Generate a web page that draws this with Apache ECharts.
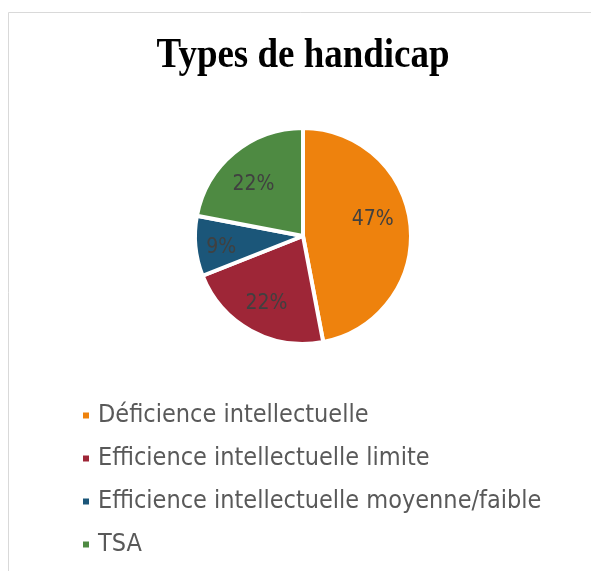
<!DOCTYPE html>
<html lang="fr">
<head>
    <meta charset="UTF-8">
    <title>Types de handicap</title>
    <script src="https://cdn.jsdelivr.net/npm/echarts@6/dist/echarts.min.js"></script>
    <style>
        html, body { margin: 0; padding: 0; background: #fff; }
        #chart { width: 591px; height: 571px; }
    </style>
</head>
<body>
    <div id="chart"></div>
    <script>
        // données
        const categories = ['Déficience intellectuelle', 'Efficience intellectuelle limite', 'Efficience intellectuelle moyenne/faible', 'TSA'];
        const values = [47, 22, 9, 22];
        const colors = ['#EE820D', '#9E2637', '#1B5679', '#4E8A42'];
        // petits décalages des étiquettes (placement "ajustement optimal" d'Excel)
        const labelNudge = [[-6, -9], [0, 1], [-6, 4], [-1, 7]];

        const chart = echarts.init(document.getElementById('chart'));
        chart.setOption({
            animation: false,
            graphic: [{
                type: 'rect',
                shape: { x: 8.5, y: 12.5, width: 700, height: 700 },
                style: { fill: 'none', stroke: '#d9d9d9', lineWidth: 1 },
                silent: true
            }, {
                // titre
                type: 'text',
                x: 303,
                y: 56,
                scaleX: 0.88,
                style: {
                    text: 'Types de handicap',
                    font: 'bold 42px "Liberation Serif"',
                    fill: '#000',
                    align: 'center',
                    verticalAlign: 'middle'
                },
                silent: true
            }],
            legend: {
                orient: 'vertical',
                left: 76,
                top: 398,
                itemWidth: 8,
                itemHeight: 8,
                itemGap: 18,
                icon: 'rect',
                data: categories,
                textStyle: {
                    fontFamily: '"DejaVu Sans Condensed", "DejaVu Sans"',
                    fontSize: 25,
                    color: '#595959',
                    padding: [0, 0, 0, 3]
                }
            },
            series: [{
                type: 'pie',
                center: [303, 236],
                radius: [0, 108],
                startAngle: 90,
                clockwise: true,
                label: { show: false },
                labelLine: { show: false },
                itemStyle: { borderColor: '#fff', borderWidth: 4 },
                data: categories.map((name, i) => ({
                    name: name,
                    value: values[i],
                    itemStyle: { color: colors[i] }
                }))
            }, {
                // anneau transparent pour placer les étiquettes vers l'extérieur
                type: 'pie',
                center: [303, 236],
                radius: [40, 106],
                startAngle: 90,
                silent: true,
                itemStyle: { color: 'transparent' },
                label: {
                    show: true,
                    position: 'inside',
                    formatter: '{d}%',
                    fontFamily: '"DejaVu Sans Condensed", "DejaVu Sans"',
                    fontSize: 21,
                    color: '#404040'
                },
                labelLine: { show: false },
                data: categories.map((name, i) => ({
                    name: name,
                    value: values[i],
                    label: { offset: labelNudge[i] }
                }))
            }]
        });
    </script>
</body>
</html>
